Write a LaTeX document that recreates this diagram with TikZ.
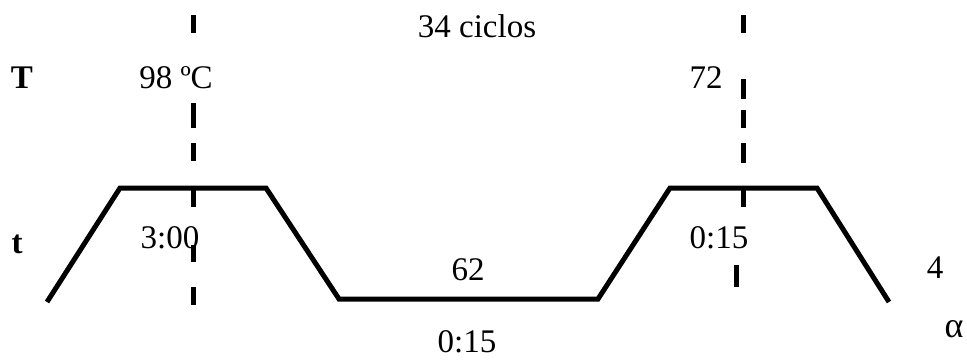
\documentclass[tikz,border=0pt]{standalone}
\usepackage{fontspec}
\setmainfont{Liberation Serif}
\begin{document}
\begin{tikzpicture}[x=1pt,y=-1pt,
  lbl/.style={anchor=base,inner sep=0pt,font=\fontsize{33}{38}\selectfont},
  bold/.style={font=\fontsize{33}{38}\selectfont\bfseries},
  profile/.style={line width=5pt,line join=miter},
  dsh/.style={line width=5pt}]
\useasboundingbox (0,0) rectangle (967,360);
% temperature profile
\draw[profile] (47,302) -- (120,188) -- (266,188) -- (339,299) -- (598,299) -- (670,188) -- (817,188) -- (889,302);
% left dashed line
\foreach \a/\b in {15/33,103/128,143/161,188/207,245/262,287/305}
  \draw[dsh] (193,\a) -- (193,\b);
% right dashed line
\foreach \a/\b in {15/33,79/99,110/128,143/163,188/207}
  \draw[dsh] (743,\a) -- (743,\b);
\draw[dsh] (736,265) -- (736,287);
% labels
\node[lbl,bold] (T) at (22,88) {T};
\node[lbl,bold] (tt) at (17,253) {t};
\node[lbl] (c) at (477,37) {34 ciclos};
\node[lbl] (t98) at (176,88) {98 ºC};
\node[lbl] (t72) at (706,88) {72};
\node[lbl] (d300) at (170,248) {3:00};
\node[lbl] (t62) at (468,280) {62};
\node[lbl] (d15a) at (467,352) {0:15};
\node[lbl] (d15b) at (719,248) {0:15};
\node[lbl] (t4) at (935,278) {4};
\node[lbl,font=\fontsize{36}{40}\selectfont] (al) at (954,337) {α};
\end{tikzpicture}
\end{document}
